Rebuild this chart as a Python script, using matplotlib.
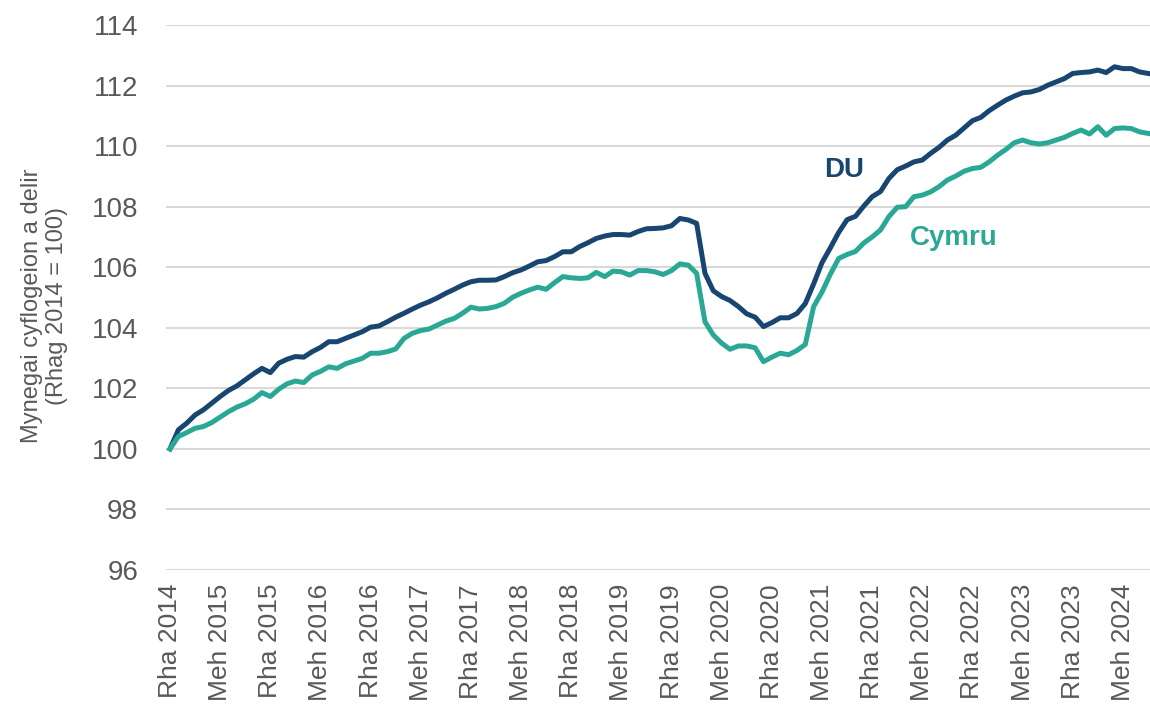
# Mynegai cyflogeion a delir, DU a Chymru (Rhag 2014 = 100)
import numpy as np
import matplotlib.pyplot as plt

# data misol, Rhagfyr 2014 i Fedi 2024
du = [100.0, 100.63, 100.85, 101.12, 101.29, 101.51, 101.73, 101.93, 102.08, 102.28,
      102.48, 102.66, 102.52, 102.83, 102.96, 103.05, 103.03, 103.21, 103.35, 103.54,
      103.54, 103.65, 103.76, 103.87, 104.02, 104.06, 104.20, 104.35, 104.48, 104.62,
      104.75, 104.86, 104.99, 105.14, 105.27, 105.41, 105.52, 105.57, 105.57, 105.58,
      105.69, 105.82, 105.91, 106.04, 106.18, 106.22, 106.35, 106.51, 106.51, 106.68,
      106.81, 106.95, 107.03, 107.08, 107.08, 107.06, 107.18, 107.27, 107.28, 107.30,
      107.37, 107.61, 107.56, 107.45, 105.80, 105.22, 105.03, 104.90, 104.70, 104.46,
      104.35, 104.04, 104.17, 104.33, 104.33, 104.47, 104.80, 105.45, 106.15, 106.64,
      107.15, 107.57, 107.68, 108.02, 108.33, 108.50, 108.93, 109.22, 109.34, 109.48,
      109.54, 109.76, 109.96, 110.20, 110.36, 110.60, 110.84, 110.95, 111.17, 111.35,
      111.52, 111.65, 111.76, 111.79, 111.87, 112.01, 112.12, 112.23, 112.40, 112.43,
      112.45, 112.51, 112.43, 112.62, 112.56, 112.56, 112.45, 112.40]

cymru = [100.0, 100.41, 100.54, 100.68, 100.74, 100.87, 101.05, 101.23, 101.38, 101.49,
         101.64, 101.86, 101.73, 101.97, 102.15, 102.24, 102.19, 102.44, 102.56, 102.71,
         102.66, 102.81, 102.90, 102.99, 103.16, 103.16, 103.21, 103.30, 103.65, 103.82,
         103.91, 103.96, 104.09, 104.22, 104.31, 104.48, 104.68, 104.62, 104.64, 104.70,
         104.81, 105.01, 105.14, 105.25, 105.34, 105.27, 105.49, 105.69, 105.65, 105.63,
         105.65, 105.83, 105.69, 105.87, 105.85, 105.74, 105.89, 105.89, 105.85, 105.76,
         105.89, 106.11, 106.07, 105.80, 104.20, 103.76, 103.49, 103.29, 103.40, 103.40,
         103.34, 102.88, 103.03, 103.16, 103.11, 103.25, 103.45, 104.70, 105.18, 105.77,
         106.29, 106.42, 106.52, 106.80, 107.00, 107.23, 107.67, 107.98, 108.00, 108.33,
         108.38, 108.49, 108.66, 108.88, 109.01, 109.17, 109.26, 109.30, 109.48, 109.70,
         109.89, 110.11, 110.20, 110.11, 110.07, 110.11, 110.20, 110.29, 110.42, 110.53,
         110.40, 110.64, 110.36, 110.58, 110.60, 110.58, 110.47, 110.42]

# labeli'r echel x, pob chwe mis
labeli_x = ['Rha 2014', 'Meh 2015', 'Rha 2015', 'Meh 2016', 'Rha 2016', 'Meh 2017',
            'Rha 2017', 'Meh 2018', 'Rha 2018', 'Meh 2019', 'Rha 2019', 'Meh 2020',
            'Rha 2020', 'Meh 2021', 'Rha 2021', 'Meh 2022', 'Rha 2022', 'Meh 2023',
            'Rha 2023', 'Meh 2024']

plt.rcParams['font.family'] = ['Liberation Sans', 'DejaVu Sans']
llwyd = '#595959'
glas = '#184671'
gwyrdd = '#2aa896'

x = np.arange(len(du))

fig = plt.figure(figsize=(11.5, 7.04), dpi=100)
ax = fig.add_axes([166/1150, 1 - 570/704, 1 - 166/1150, (570 - 25)/704])

ax.plot(x, du, color=glas, lw=3.6, solid_joinstyle='round')
ax.plot(x, cymru, color=gwyrdd, lw=3.6, solid_joinstyle='round')

ax.text(80.6, 109.2, 'DU', color=glas, fontsize=20, fontweight='bold',
        ha='center', va='center')
ax.text(93.8, 106.95, 'Cymru', color=gwyrdd, fontsize=20, fontweight='bold',
        ha='center', va='center')

ax.set_xlim(-0.48, len(du) - 1 + 0.24)
ax.set_ylim(96, 114)
ax.set_yticks(np.arange(96, 115, 2))
ax.set_xticks(np.arange(0, len(du), 6)[:len(labeli_x)])
ax.set_xticklabels(labeli_x, rotation=90)

ax.grid(axis='y', color='#d9d9d9', lw=1.5)
ax.set_axisbelow(True)
for s in ax.spines.values():
    s.set_visible(False)
ax.tick_params(axis='both', length=0, labelsize=19, labelcolor=llwyd)
ax.tick_params(axis='y', labelsize=20, pad=20)
ax.tick_params(axis='x', pad=10)

ax.set_ylabel('Mynegai cyflogeion a delir\n(Rhag 2014 = 100)', fontsize=17,
              color=llwyd, linespacing=1.15)
ax.yaxis.set_label_coords(-0.10, 0.485)

fig.savefig('out.png', dpi=100)
